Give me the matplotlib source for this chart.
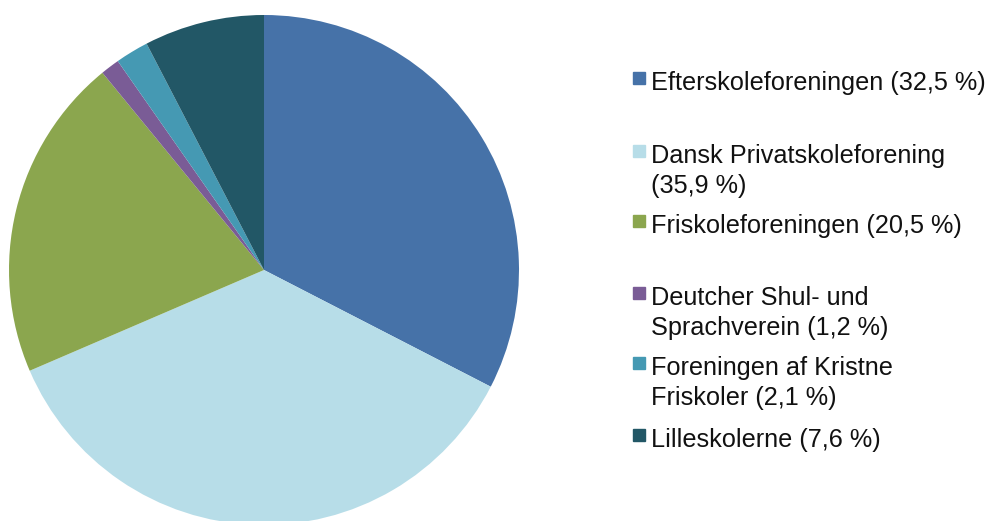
import matplotlib.pyplot as plt
from matplotlib.patches import Rectangle

plt.rcParams['font.family'] = ['Liberation Sans', 'DejaVu Sans']

labels = ['Efterskoleforeningen (32,5 %)',
          'Dansk Privatskoleforening\n(35,9 %)',
          'Friskoleforeningen (20,5 %)',
          'Deutcher Shul- und\nSprachverein (1,2 %)',
          'Foreningen af Kristne\nFriskoler (2,1 %)',
          'Lilleskolerne (7,6 %)']
shares = [32.5, 35.9, 20.5, 1.2, 2.1, 7.6]
colors = ['#4672A8', '#B7DDE8', '#8BA64E', '#7A5C96', '#4599B3', '#225766']

W, H = 989, 521
fig = plt.figure(figsize=(W / 100, H / 100), dpi=100)

# pie: center ~ (264, 270) px, radius ~255 px
cx, cy, r = 264, 270, 255
ax = fig.add_axes([(cx - r) / W, (H - cy - r) / H, 2 * r / W, 2 * r / H])
ax.pie(shares, colors=colors, startangle=90, counterclock=False,
       wedgeprops=dict(linewidth=0), radius=1)
ax.set_xlim(-1, 1)
ax.set_ylim(-1, 1)
ax.set_aspect('equal')
ax.axis('off')

# legend, placed by hand (first-line y in pixels)
legend_y = [82, 155, 225, 297, 367, 439]
for lab, col, y in zip(labels, colors, legend_y):
    fig.patches.append(Rectangle((633 / W, (H - y - 2) / H), 12 / W, 12 / H,
                                 transform=fig.transFigure, color=col))
    fig.text(651 / W, (H - y + 11) / H, lab, fontsize=18.2, va='top', ha='left',
             linespacing=1.3, color='#111111')

fig.savefig('out.png', dpi=100)
